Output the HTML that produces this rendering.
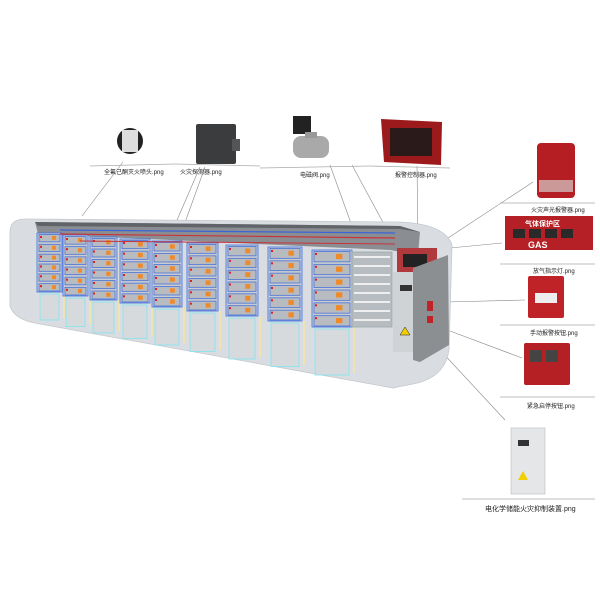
<!DOCTYPE html>
<html><head><meta charset="utf-8"><style>
html,body{margin:0;padding:0;background:#fff;width:600px;height:600px;overflow:hidden}
svg{display:block}
text{font-family:"Liberation Sans","Noto Sans CJK SC",sans-serif;font-size:6px;fill:#222}
</style></head><body>
<svg id="s" width="600" height="600" viewBox="0 0 600 600" xmlns="http://www.w3.org/2000/svg">
<g stroke="#888" stroke-width="0.6" fill="none">
<line x1="123" y1="162" x2="82" y2="216"/>
<line x1="200" y1="167" x2="174" y2="227"/>
<line x1="205" y1="167" x2="183" y2="228"/>
<line x1="330" y1="165" x2="357" y2="240"/>
<line x1="352" y1="165" x2="385" y2="226"/>
<line x1="417" y1="166" x2="418" y2="245"/>
<line x1="533" y1="182" x2="448" y2="238"/>
<line x1="502" y1="243" x2="450" y2="248"/>
<line x1="525" y1="300" x2="445" y2="302"/>
<line x1="522" y1="358" x2="450" y2="331"/>
<line x1="505" y1="420" x2="440" y2="350"/>
</g>
<g stroke="#aaa" stroke-width="0.8">
<line x1="90" y1="166" x2="175" y2="164"/>
<line x1="175" y1="164" x2="260" y2="166"/>
<line x1="260" y1="168" x2="370" y2="166"/>
<line x1="370" y1="166" x2="450" y2="168"/>
<line x1="500" y1="203" x2="595" y2="203"/>
<line x1="500" y1="264" x2="595" y2="264"/>
<line x1="500" y1="325" x2="595" y2="325"/>
<line x1="500" y1="397" x2="595" y2="397"/>
<line x1="462" y1="499" x2="595" y2="499"/>
</g>
<g>
<ellipse cx="130" cy="141" rx="13" ry="13" fill="#222"/>
<rect x="122" y="130" width="16" height="22" fill="#ddd"/>
<rect x="196" y="124" width="40" height="40" rx="2" fill="#3a3c3e"/>
<rect x="232" y="139" width="8" height="12" fill="#555"/>
<rect x="293" y="116" width="18" height="18" fill="#222"/>
<rect x="293" y="136" width="36" height="22" rx="8" fill="#a9a9a9"/>
<rect x="305" y="132" width="12" height="6" fill="#999"/>
<polygon points="381,119 442,122 441,165 384,162" fill="#9c1a1c"/>
<rect x="390" y="128" width="42" height="28" fill="#2a1a1a"/>
</g>
<g>
<rect x="537" y="143" width="38" height="55" rx="4" fill="#b51f24"/>
<rect x="539" y="180" width="34" height="12" fill="#c99"/>
<rect x="505" y="216" width="88" height="34" fill="#b42025"/>
<text x="525" y="226" style="font-size:7px;fill:#fff;font-weight:bold">气体保护区</text>
<rect x="513" y="229" width="12" height="9" fill="#2a2a2a"/><rect x="529" y="229" width="12" height="9" fill="#2a2a2a"/><rect x="545" y="229" width="12" height="9" fill="#2a2a2a"/><rect x="561" y="229" width="12" height="9" fill="#2a2a2a"/>
<text x="528" y="248" style="font-size:9px;fill:#fff;font-weight:bold">GAS</text>
<rect x="528" y="276" width="36" height="42" rx="2" fill="#bf2227"/>
<rect x="535" y="293" width="22" height="10" fill="#eee"/>
<rect x="524" y="343" width="46" height="42" rx="2" fill="#b52024"/>
<rect x="530" y="350" width="12" height="12" fill="#444"/><rect x="546" y="350" width="12" height="12" fill="#444"/>
<rect x="511" y="428" width="34" height="66" fill="#e4e6e8" stroke="#bbb" stroke-width="0.6"/>
<rect x="518" y="440" width="11" height="6" fill="#333"/>
<polygon points="518,480 523,471 528,480" fill="#f2d000"/>
</g>
<text x="104" y="174">全氟己酮灭火喷头.png</text>
<text x="180" y="174">火灾探测器.png</text>
<text x="300" y="177">电磁阀.png</text>
<text x="395" y="177">报警控制器.png</text>
<text x="531" y="212">火灾声光报警器.png</text>
<text x="533" y="273">放气指示灯.png</text>
<text x="530" y="335">手动报警按钮.png</text>
<text x="527" y="408">紧急启停按钮.png</text>
<text x="485" y="511" style="font-size:7px">电化学储能火灾抑制装置.png</text>
<path d="M10,232 Q10,219 25,219 L400,222 Q445,224 452,245 L449,350 Q445,378 413,384 L393,388 L40,324 Q14,320 10,306 Z" fill="#d9dde1" stroke="#c5c9cd" stroke-width="0.8"/>
<path d="M35,222 L400,226 L420,232 L418,255 L390,250 L38,234 Z" fill="#8a8e92"/>
<path d="M35,222 L400,226 L420,232 L400,229 L38,226 Z" fill="#606468"/>
<g id="racks"></g>
<line x1="60" y1="230" x2="395" y2="233" stroke="#3b64d6" stroke-width="1.2"/>
<line x1="60" y1="234" x2="395" y2="238" stroke="#c8333a" stroke-width="1.2"/>
<line x1="80" y1="241" x2="395" y2="244" stroke="#c8333a" stroke-width="1"/>
<rect x="397" y="248" width="40" height="25" fill="#b0393d"/>
<rect x="403" y="254" width="24" height="13" fill="#222"/>
<rect x="393" y="272" width="22" height="80" fill="#cfd3d6"/>
<rect x="400" y="285" width="12" height="6" fill="#333"/>
<polygon points="400,335 405,327 410,335" fill="#f2d000" stroke="#222" stroke-width="0.5"/>
<polygon points="413,268 448,255 449,345 420,362 413,360" fill="#8c8f92"/>
<rect x="427" y="301" width="6" height="10" fill="#c12227"/>
<rect x="427" y="316" width="6" height="7" fill="#c12227"/>
</svg>
<script>
var g=document.getElementById('racks'),ns='http://www.w3.org/2000/svg';
var cols=[[37,62,233,292],[63,88,235,296],[90,117,237,300],[120,150,239,303],[152,182,241,307],[187,218,243,311],[226,258,245,316],[268,302,247,321],[312,352,250,327]];
function r(x,y,w,h,f,s){var e=document.createElementNS(ns,'rect');e.setAttribute('x',x);e.setAttribute('y',y);e.setAttribute('width',w);e.setAttribute('height',h);e.setAttribute('fill',f);if(s){e.setAttribute('stroke',s);e.setAttribute('stroke-width','0.8');}g.appendChild(e);}
cols.forEach(function(c,i){var w=c[1]-c[0],h=c[3]-c[2];
r(c[0],c[2],w,h,'#c9cdd1','#3d6fe0');
var n=6,mh=h/n;for(var k=0;k<n;k++){var y=c[2]+k*mh;r(c[0]+2,y+1.5,w-4,mh-2.5,'#b8bcc0','#4a72d8');r(c[0]+3,y+3,2,2,'#d22');r(c[0]+w*0.6,y+mh*0.3,w*0.16,mh*0.4,'#ef8a2a');}
var ph=26+i*2.5;r(c[0]+3,c[3]+2,w-6,ph,'#d6dadd','#7fe6f0');
r(c[1]+1,c[3],2,ph,'#f1e3b0');
});
r(352,252,40,75,'#b7bcc1','#9aa');
for(var k=0;k<8;k++)r(354,256+k*9,36,2,'#eee');
</script>
</body></html>
